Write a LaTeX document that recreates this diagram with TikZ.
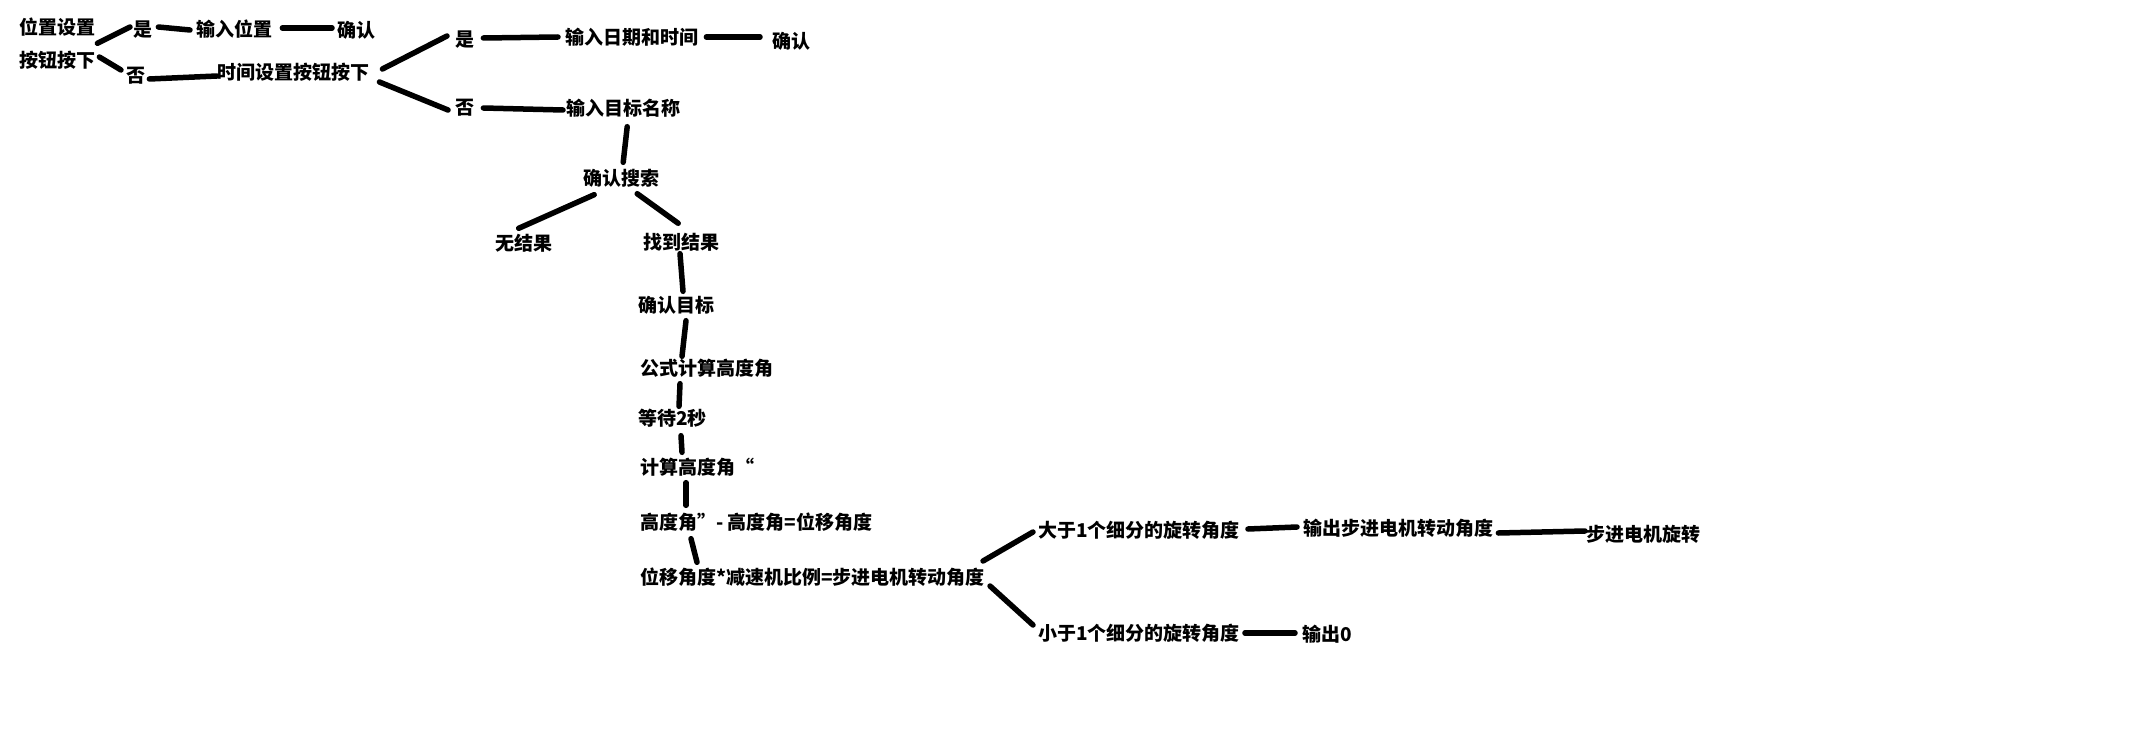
\documentclass[tikz,border=0pt]{standalone}
\usepackage{fontspec}
\newfontfamily\cjk{Noto Sans CJK SC}
\usetikzlibrary{calc}
\tikzset{
  txt/.style={anchor=west, inner sep=0pt, font=\cjk\bfseries\fontsize{19}{19}\selectfont, text height=16.5pt, text depth=2.5pt},
  conn/.style={line width=5.5pt, line cap=round, black}
}
\begin{document}
\begin{tikzpicture}[x=1pt,y=-1pt]
\useasboundingbox[fill=white] (0,0) rectangle (2132,749);
\node[txt] (n1) at (19,28) {位置设置};
\node[txt] (n2) at (19,61) {按钮按下};
\node[txt] (y1) at (133,30) {是};
\node[txt] (in1) at (196,30) {输入位置};
\node[txt] (ok1) at (337,31) {确认};
\node[txt] (no1) at (126,76) {否};
\node[txt] (t) at (217,73) {时间设置按钮按下};
\node[txt] (y2) at (455,40) {是};
\node[txt] (no2) at (455,108) {否};
\node[txt] (dt) at (565,38) {输入日期和时间};
\node[txt] (ok2) at (772,42) {确认};
\node[txt] (nm) at (566,109) {输入目标名称};
\node[txt] (sr) at (583,178) {确认搜索};
\node[txt] (nr) at (495,243) {无结果};
\node[txt] (fr) at (643,242) {找到结果};
\node[txt] (ct) at (638,305) {确认目标};
\node[txt] (gs) at (640,368) {公式计算高度角};
\node[txt] (wt) at (638,418) {等待2秒};
\node[txt] (ca) at (640,467) {计算高度角“};
\node[txt] (df) at (640,522) {高度角”- 高度角=位移角度};
\node[txt] (mt) at (640,577) {位移角度*减速机比例=步进电机转动角度};
\node[txt] (gt) at (1038,530) {大于1个细分的旋转角度};
\node[txt] (os) at (1303,528) {输出步进电机转动角度};
\node[txt] (sp) at (1586,534) {步进电机旋转};
\node[txt] (lt) at (1038,633) {小于1个细分的旋转角度};
\node[txt] (o0) at (1302,634) {输出0};

\draw[conn] ($(n2.north east)+(2,-8)$) -- ($(y1.west)+(-3,-3)$);
\draw[conn] ($(n2.east)+(4,-4)$) -- ($(no1.west)+(-5,-6)$);
\draw[conn] ($(y1.east)+(6,-3)$) -- ($(in1.west)+(-6,0)$);
\draw[conn] ($(in1.east)+(10,-2)$) -- ($(ok1.west)+(-5,-3)$);
\draw[conn] ($(no1.east)+(4,3)$) -- ($(t.west)+(0,3)$);
\draw[conn] ($(t.east)+(13,-4)$) -- ($(y2.west)+(-8,-4)$);
\draw[conn] ($(t.east)+(10,9)$) -- ($(no2.west)+(-7,2)$);
\draw[conn] ($(y2.east)+(9,-2)$) -- ($(dt.west)+(-7,-1)$);
\draw[conn] ($(dt.east)+(8,-1)$) -- ($(ok2.west)+(-12,-5)$);
\draw[conn] ($(no2.east)+(9,0)$) -- ($(nm.west)+(-3,1)$);
\draw[conn] ($(nm.south)+(4,8)$) -- ($(sr.north)+(2,-6)$);
\draw[conn] ($(sr.south)+(-27,7)$) -- ($(nr.north)+(-5,-5)$);
\draw[conn] ($(sr.south)+(16,6)$) -- ($(fr.north)+(-3,-9)$);
\draw[conn] ($(fr.south west)+(37,2)$) -- ($(ct.north west)+(45,-4)$);
\draw[conn] ($(ct.south west)+(48,6)$) -- ($(gs.north west)+(42,-2)$);
\draw[conn] ($(gs.south west)+(40,6)$) -- ($(wt.north west)+(41,-2)$);
\draw[conn] ($(wt.south west)+(43,8)$) -- ($(ca.north west)+(42,-5)$);
\draw[conn] ($(ca.south west)+(46,6)$) -- ($(df.north west)+(46,-7)$);
\draw[conn] ($(df.south west)+(51,7)$) -- ($(mt.north west)+(57,-5)$);
\draw[conn] ($(mt.east)+(-2,-16)$) -- ($(gt.west)+(-5,2)$);
\draw[conn] ($(mt.east)+(5,9)$) -- ($(lt.west)+(-5,-8)$);
\draw[conn] ($(gt.east)+(8,-1)$) -- ($(os.west)+(-6,-1)$);
\draw[conn] ($(os.east)+(5,5)$) -- ($(sp.west)+(-1,-3)$);
\draw[conn] ($(lt.east)+(5,0)$) -- ($(o0.west)+(-7,-1)$);
\end{tikzpicture}
\end{document}
